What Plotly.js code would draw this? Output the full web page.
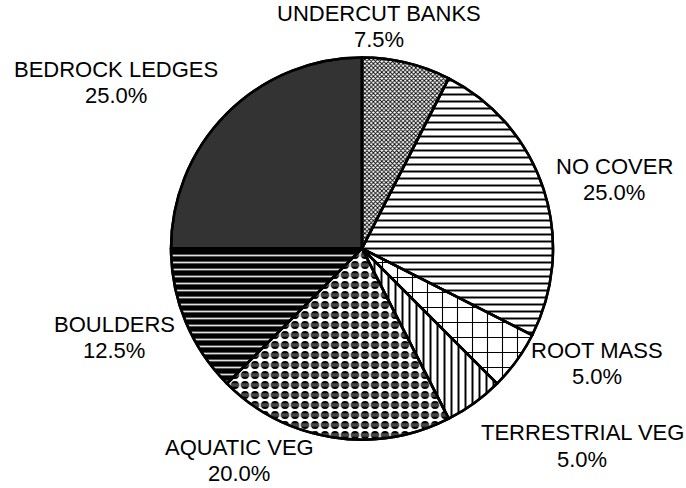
<!DOCTYPE html>
<html>
<head>
<meta charset="utf-8">
<script src="https://cdn.plot.ly/plotly-3.0.1.min.js"></script>
<style>html,body{margin:0;padding:0;background:#fff;}#chart{width:686px;height:488px;}</style>
</head>
<body>
<div id="chart"></div>
<script>
// ---- data ----
const categories = ["UNDERCUT BANKS", "NO COVER", "ROOT MASS", "TERRESTRIAL VEG", "AQUATIC VEG", "BOULDERS", "BEDROCK LEDGES"];
const percentages = [7.5, 25.0, 5.0, 5.0, 20.0, 12.5, 25.0];

// ---- styles ----
const fillColors   = ["#ffffff", "#ffffff", "#ffffff", "#ffffff", "#ffffff", "#000000", "#333333"];
const patShapes    = ["x", "-", "+", "|", ".", "-", ""];
const patFg        = ["#000000", "#000000", "#000000", "#000000", "#000000", "#e0e0e0", "#333333"];
const patBg        = ["#ffffff", "#ffffff", "#ffffff", "#ffffff", "#ffffff", "#000000", "#333333"];
const patSize      = [3, 7, 15, 7, 10, 7, 8];
const patSolidity  = [0.5, 0.28, 0.14, 0.28, 0.5, 0.25, 0.3];
const overlayShapes = ["", "", "", "", "-", "", ""];
const overlayFg     = ["rgba(0,0,0,0)", "rgba(0,0,0,0)", "rgba(0,0,0,0)", "rgba(0,0,0,0)", "#8a8a8a", "rgba(0,0,0,0)", "rgba(0,0,0,0)"];

// label positions (pixels from top-left of the figure)
const labelX  = [379, 614, 597, 582, 239, 114, 116];
const labelY1 = [14, 166, 350, 432, 447, 324, 69];
const labelY2 = [40, 192, 376, 459, 473, 350, 95];

const W = 686, H = 488;
const cx = 362, cy = 248.5, r = 191;
const dom = {x: [(cx - r) / W, (cx + r) / W], y: [1 - (cy + r) / H, 1 - (cy - r) / H]};

const base = {
  type: "pie",
  labels: categories,
  values: percentages,
  sort: false,
  direction: "clockwise",
  rotation: 0,
  textinfo: "none",
  hoverinfo: "none",
  showlegend: false,
  domain: dom
};

const trace1 = Object.assign({}, base, {
  marker: {
    colors: fillColors,
    line: {color: "#000000", width: 2.5},
    pattern: {shape: patShapes, fgcolor: patFg, bgcolor: patBg, size: patSize, solidity: patSolidity, fillmode: "replace"}
  }
});

// overlay of gray bands for the AQUATIC VEG texture
const trace2 = Object.assign({}, base, {
  marker: {
    colors: categories.map(() => "rgba(0,0,0,0)"),
    line: {color: "#000000", width: 2.5},
    pattern: {shape: overlayShapes, fgcolor: overlayFg, bgcolor: categories.map(() => "rgba(0,0,0,0)"), size: 10, solidity: 0.35, fillmode: "overlay"}
  }
});

const font = {family: "Liberation Sans, Arial, sans-serif", size: 22, color: "#000000"};
const annotations = [];
categories.forEach((c, i) => {
  annotations.push({text: c, x: labelX[i] / W, y: 1 - labelY1[i] / H, xref: "paper", yref: "paper",
    xanchor: "center", yanchor: "middle", showarrow: false, font: font});
  annotations.push({text: percentages[i].toFixed(1) + "%", x: labelX[i] / W, y: 1 - labelY2[i] / H, xref: "paper", yref: "paper",
    xanchor: "center", yanchor: "middle", showarrow: false, font: font});
});

const layout = {
  width: W, height: H,
  margin: {l: 0, r: 0, t: 0, b: 0},
  paper_bgcolor: "#ffffff",
  annotations: annotations,
  font: font
};

Plotly.newPlot("chart", [trace1, trace2], layout, {staticPlot: true, displayModeBar: false});
</script>
</body>
</html>
